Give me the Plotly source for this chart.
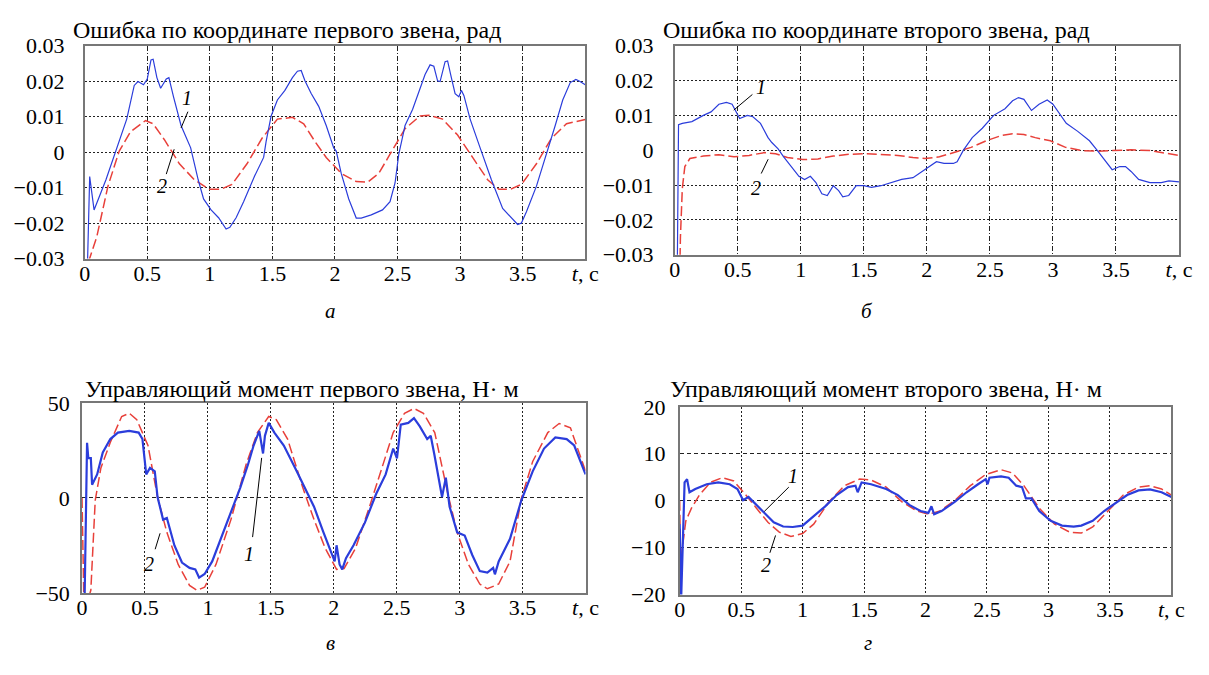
import plotly.graph_objects as go

# ---------------- data ----------------
# Panel a: error of link 1 coordinate, rad
a_blue_t = [0.0, 0.02, 0.04, 0.075, 0.17, 0.246, 0.336, 0.396, 0.426, 0.47, 0.50, 0.53, 0.547, 0.577, 0.607, 0.652,
            0.673, 0.71, 0.77, 0.847, 0.907, 0.95, 1.01, 1.07, 1.13, 1.16, 1.21, 1.27, 1.357, 1.43, 1.45, 1.49,
            1.54, 1.6, 1.66, 1.70, 1.73, 1.76, 1.81, 1.87, 1.93, 1.99, 2.01, 2.05, 2.11, 2.17, 2.21, 2.29, 2.38,
            2.44, 2.48, 2.51, 2.56, 2.62, 2.68, 2.72, 2.76, 2.79, 2.82, 2.84, 2.88, 2.90, 2.93, 2.96, 2.99, 3.01,
            3.03, 3.08, 3.16, 3.25, 3.34, 3.41, 3.46, 3.49, 3.53, 3.61, 3.70, 3.76, 3.82, 3.88, 3.925, 3.955, 4.0]
a_blue_v = [-0.04, -0.035, -0.0069, -0.0163, -0.0078, 0.0003, 0.0093, 0.0188, 0.0199, 0.019, 0.0206, 0.026, 0.0262,
            0.021, 0.018, 0.0206, 0.021, 0.0156, 0.0075, 0.0012, -0.0078, -0.0132, -0.0163, -0.0185, -0.0217,
            -0.0212, -0.0185, -0.014, -0.0068, -0.0015, 0.003, 0.0102, 0.0147, 0.0174, 0.021, 0.0228, 0.023,
            0.0201, 0.0165, 0.0129, 0.0075, 0.0012, 0.0003, -0.006, -0.0132, -0.0186, -0.0186, -0.0177, -0.0163,
            -0.014, -0.0087, -0.0006, 0.0075, 0.012, 0.0183, 0.0219, 0.0246, 0.0242, 0.0201, 0.0199, 0.0255,
            0.0257, 0.021, 0.0165, 0.0156, 0.0174, 0.016, 0.0093, 0.0012, -0.0078, -0.0159, -0.0186, -0.0204,
            -0.02, -0.0168, -0.0096, 0.0003, 0.0075, 0.0147, 0.0196, 0.0205, 0.02, 0.019]
a_red_t = [0.03, 0.096, 0.186, 0.276, 0.366, 0.486, 0.547, 0.637, 0.757, 0.877, 0.997, 1.087, 1.177, 1.297, 1.417,
           1.54, 1.66, 1.75, 1.84, 1.93, 2.05, 2.17, 2.26, 2.35, 2.44, 2.56, 2.68, 2.75, 2.86, 2.98, 3.10, 3.22,
           3.31, 3.40, 3.49, 3.61, 3.73, 3.85, 4.0]
a_red_v = [-0.031, -0.024, -0.0096, 0.0003, 0.0057, 0.0089, 0.008, 0.0035, -0.0033, -0.0078, -0.0105, -0.0105,
           -0.0091, -0.0033, 0.0039, 0.0093, 0.0098, 0.008, 0.003, -0.0015, -0.006, -0.0083, -0.0085, -0.006,
           -0.0006, 0.0066, 0.0102, 0.0104, 0.0093, 0.0048, -0.0015, -0.0078, -0.0105, -0.0105, -0.0091, -0.0033,
           0.0039, 0.008, 0.0092]

# Panel b: error of link 2 coordinate, rad
b_blue_t = [0.02, 0.03, 0.06, 0.136, 0.227, 0.288, 0.35, 0.41, 0.455, 0.485, 0.515, 0.576, 0.62, 0.68, 0.74, 0.77,
            0.82, 0.864, 0.924, 0.985, 1.03, 1.076, 1.12, 1.167, 1.21, 1.258, 1.30, 1.333, 1.38, 1.44, 1.5, 1.56,
            1.636, 1.71, 1.80, 1.89, 1.985, 2.076, 2.136, 2.21, 2.24, 2.29, 2.36, 2.44, 2.53, 2.62, 2.68, 2.727,
            2.77, 2.83, 2.89, 2.955, 3.0, 3.045, 3.106, 3.197, 3.29, 3.35, 3.41, 3.47, 3.53, 3.576, 3.62, 3.68,
            3.77, 3.86, 3.92, 4.0]
b_blue_v = [-0.035, 0.0073, 0.0077, 0.0082, 0.01, 0.011, 0.0132, 0.0137, 0.0132, 0.011, 0.0091, 0.01, 0.0096,
            0.0077, 0.0036, 0.0022, 0.0004, -0.0019, -0.0047, -0.0075, -0.0084, -0.0075, -0.0093, -0.0125, -0.013,
            -0.0102, -0.0116, -0.0134, -0.013, -0.0102, -0.0102, -0.0107, -0.0102, -0.0093, -0.0084, -0.0079,
            -0.0056, -0.0033, -0.0038, -0.0038, -0.0033, 0.0, 0.0036, 0.0063, 0.01, 0.0119, 0.0142, 0.0151,
            0.0146, 0.0114, 0.0132, 0.0144, 0.0132, 0.011, 0.0077, 0.0054, 0.0027, 0.0, -0.0029, -0.0056, -0.0047,
            -0.0047, -0.0061, -0.0084, -0.0093, -0.0093, -0.0088, -0.0091]
b_red_t = [0.04, 0.045, 0.06, 0.08, 0.12, 0.227, 0.35, 0.47, 0.59, 0.71, 0.80, 0.894, 1.015, 1.136, 1.258, 1.38, 1.5,
           1.62, 1.77, 1.89, 1.985, 2.1, 2.23, 2.35, 2.47, 2.59, 2.68, 2.77, 2.86, 2.98, 3.1, 3.23, 3.35, 3.47,
           3.62, 3.77, 3.89, 4.0]
b_red_v = [-0.035, -0.025, -0.011, -0.0047, -0.0024, -0.0017, -0.0013, -0.0019, -0.0015, -0.0007, -0.001, -0.0021,
           -0.0027, -0.0025, -0.0017, -0.0012, -0.001, -0.0013, -0.0015, -0.0021, -0.0024, -0.0019, -0.0006,
           0.0008, 0.0027, 0.0042, 0.0047, 0.0045, 0.0036, 0.0027, 0.0008, -0.0001, -0.0003, -0.0001, 0.0001,
           -0.0001, -0.0008, -0.0015]

# Panel c: control torque of link 1, N*m
c_blue_t = [0.02, 0.04, 0.05, 0.07, 0.08, 0.12, 0.165, 0.225, 0.285, 0.375, 0.45, 0.48, 0.51, 0.54, 0.578, 0.6,
            0.644, 0.674, 0.734, 0.794, 0.854, 0.9, 0.93, 0.974, 1.034, 1.094, 1.183, 1.258, 1.318, 1.363, 1.408,
            1.438, 1.453, 1.483, 1.528, 1.603, 1.693, 1.768, 1.843, 1.918, 1.978, 2.007, 2.022, 2.046, 2.067,
            2.097, 2.157, 2.247, 2.337, 2.412, 2.472, 2.502, 2.532, 2.592, 2.637, 2.682, 2.742, 2.77, 2.80, 2.86,
            2.89, 2.92, 2.98, 3.04, 3.10, 3.16, 3.22, 3.266, 3.28, 3.31, 3.40, 3.49, 3.58, 3.67, 3.76, 3.85, 3.91,
            4.0]
c_blue_v = [-55, 29, 21, 21, 7, 12.4, 24, 31, 34.4, 35.3, 34.4, 31, 12.4, 15.8, 14, 0.5, -11.4, -10.5, -25, -34,
            -36.8, -37.6, -41.9, -40, -33.4, -23.2, -8, 5.6, 17.5, 27.6, 35.3, 23.4, 32.7, 39.5, 34.4, 27.6, 15.8,
            5.6, -4.6, -18.1, -28.3, -33.4, -24.9, -35, -37.6, -31.7, -24.9, -13, 2.2, 12.4, 26, 20.8, 38.6, 39.5,
            42, 37.8, 31, 32.7, 22.5, 0.5, 10.7, -4.6, -18.1, -19.8, -30, -38.5, -39.3, -36.8, -40.2, -33.4, -21.5,
            -1.2, 14, 26, 31.9, 31, 27.6, 12.4]
c_red_t = [0.0, 0.015, 0.04, 0.07, 0.105, 0.15, 0.225, 0.315, 0.375, 0.435, 0.524, 0.6, 0.674, 0.764, 0.854, 0.914,
           0.974, 1.064, 1.183, 1.303, 1.393, 1.483, 1.543, 1.633, 1.753, 1.843, 1.933, 2.022, 2.082, 2.172, 2.292,
           2.382, 2.472, 2.562, 2.637, 2.712, 2.802, 2.906, 2.98, 3.07, 3.16, 3.22, 3.31, 3.40, 3.49, 3.58, 3.70,
           3.79, 3.88, 4.0]
c_red_v = [0, -55, -55, -48.6, -1.2, 15.8, 29.3, 42.9, 44.6, 41.2, 27.6, 0.5, -18.1, -35, -46, -48.6, -47, -35,
           -11.4, 17.5, 34.4, 42.9, 41.2, 31, 5.6, -11.4, -26.6, -37.6, -37.1, -26.6, -2.9, 15.8, 34.4, 44.6, 47.1,
           44.6, 34.4, 2.2, -18.1, -35, -45.3, -47.8, -45.3, -33.4, -0.3, 19.2, 34.4, 39.2, 36.9, 14]

# Panel d: control torque of link 2, N*m
d_blue_t = [0.0, 0.012, 0.03, 0.04, 0.06, 0.08, 0.127, 0.22, 0.314, 0.407, 0.47, 0.516, 0.56, 0.625, 0.687, 0.765,
            0.842, 0.92, 1.0, 1.09, 1.184, 1.277, 1.37, 1.43, 1.448, 1.48, 1.557, 1.68, 1.775, 1.868, 1.96, 2.023,
            2.048, 2.07, 2.13, 2.24, 2.334, 2.427, 2.49, 2.505, 2.52, 2.614, 2.676, 2.738, 2.785, 2.816, 2.862,
            2.925, 3.018, 3.11, 3.205, 3.267, 3.36, 3.453, 3.546, 3.64, 3.733, 3.826, 3.92, 4.0]
d_blue_v = [-5, -21, -5, 3.9, 4.6, 1.8, 2.5, 3.5, 3.9, 3.5, 2.5, 0.1, 0.8, -0.9, -2.6, -4.6, -5.5, -5.6, -5.3, -3.3,
            -1.2, 1.2, 2.9, 3.2, 1.8, 3.9, 3.5, 2.5, 1.2, -0.9, -2.2, -2.6, -1.2, -2.9, -2.2, -0.2, 1.8, 3.5, 4.6,
            3.5, 4.9, 5.2, 4.9, 3.2, 2.9, 0.5, 0.5, -2.2, -4.3, -5.3, -5.5, -5.3, -4.3, -2.2, -0.5, 1.2, 2.2, 2.4,
            1.8, 0.8]
d_red_t = [0.0, 0.01, 0.02, 0.05, 0.096, 0.16, 0.25, 0.345, 0.44, 0.53, 0.625, 0.718, 0.81, 0.905, 1.0, 1.09, 1.215,
           1.34, 1.464, 1.557, 1.68, 1.806, 1.93, 2.023, 2.117, 2.24, 2.365, 2.49, 2.614, 2.707, 2.8, 2.925, 3.05,
           3.173, 3.267, 3.36, 3.484, 3.608, 3.733, 3.826, 3.92, 4.0]
d_red_v = [0, -18, -10.4, -4.3, -1.6, 1.2, 3.9, 4.9, 4.2, 1.5, -1.6, -4.6, -6.7, -7.6, -7.0, -5.0, -0.2, 3.2, 4.6,
           4.4, 2.9, -0.2, -2.2, -2.9, -2.2, 0.1, 3.2, 5.6, 6.6, 5.9, 3.2, -1.6, -5.0, -6.7, -6.9, -5.6, -2.2, 1.2,
           2.9, 3.2, 2.5, 1.2]

titles = ["Ошибка по координате первого звена, рад",
          "Ошибка по координате второго звена, рад",
          "Управляющий момент первого звена, Н· м",
          "Управляющий момент второго звена, Н· м"]
panel_letters = ["а", "б", "в", "г"]

x_tickvals = [0, 0.5, 1, 1.5, 2, 2.5, 3, 3.5, 4]
x_ticktext = ["0", "0.5", "1", "1.5", "2", "2.5", "3", "3.5", "<i>t</i>, c"]
err_tickvals = [-0.03, -0.02, -0.01, 0, 0.01, 0.02, 0.03]
err_ticktext = ["\u22120.03", "\u22120.02", "\u22120.01", "0", "0.01", "0.02", "0.03"]
m1_tickvals = [-50, 0, 50]
m1_ticktext = ["\u221250", "0", "50"]
m2_tickvals = [-20, -10, 0, 10, 20]
m2_ticktext = ["\u221220", "\u221210", "0", "10", "20"]

# curve labels: (text, label x, label y, line x0, y0, x1, y1)
labels_a = [("1", 0.817, 0.0152, 0.825, 0.0114, 0.77, 0.0068), ("2", 0.62, -0.0095, 0.652, -0.0062, 0.715, 0.0008)]
labels_b = [("1", 0.686, 0.0182, 0.616, 0.016, 0.468, 0.0115), ("2", 0.647, -0.0109, 0.686, -0.0067, 0.741, -0.0026)]
labels_c = [("2", 0.534, -34.7, 0.581, -27, 0.62, -18.6), ("1", 1.324, -29.6, 1.355, -20.6, 1.427, 21.1)]
labels_d = [("1", 0.92, 5.3, 0.888, 2.9, 0.688, -2.3), ("2", 0.702, -13.6, 0.734, -11.1, 0.78, -7.4)]

# ---------------- layout geometry (pixels, page coordinates) ----------------
W, H = 1209, 675
FONT = "Liberation Serif"
BLUE = "#2b3ddb"
RED = "#e8403a"


def fx(px):
    return px / W


def fy(py):
    return 1 - py / H


# left, right, top, bottom
boxes = [(80, 589, 35, 256), (680, 1192.7, 35, 252), (77.3, 589.3, 406, 603.3), (685, 1185, 410, 605)]
standoffs = [14, 15, 6, 8]

fig = go.Figure()

panels = [
    (a_blue_t, a_blue_v, a_red_t, a_red_v, 1.2, [-0.03, 0.03], err_tickvals, err_ticktext, labels_a),
    (b_blue_t, b_blue_v, b_red_t, b_red_v, 1.2, [-0.03, 0.03], err_tickvals, err_ticktext, labels_b),
    (c_blue_t, c_blue_v, c_red_t, c_red_v, 2.2, [-50, 50], m1_tickvals, m1_ticktext, labels_c),
    (d_blue_t, d_blue_v, d_red_t, d_red_v, 2.2, [-20, 20], m2_tickvals, m2_ticktext, labels_d),
]

shapes = []
annotations = []
for i, (bt, bv, rt, rv, bw, yr, ytv, ytt, labs) in enumerate(panels):
    n = i + 1
    xa = "x" if n == 1 else f"x{n}"
    ya = "y" if n == 1 else f"y{n}"
    fig.add_trace(go.Scatter(x=rt, y=rv, mode="lines", xaxis=xa, yaxis=ya,
                             line=dict(color=RED, width=1.5, dash="10px,4px"), showlegend=False))
    fig.add_trace(go.Scatter(x=bt, y=bv, mode="lines", xaxis=xa, yaxis=ya,
                             line=dict(color=BLUE, width=bw), showlegend=False))
    l, r, t, b = boxes[i]
    hgrid_dash = "2px,2px" if i < 2 else "4px,3px"
    vgrid_dash = "5px,2px,1px,2px" if i < 2 else "2px,2px"
    xkey = "xaxis" if n == 1 else f"xaxis{n}"
    ykey = "yaxis" if n == 1 else f"yaxis{n}"
    fig.layout[xkey] = dict(domain=[fx(l), fx(r)], anchor=ya, range=[0, 4],
                            tickvals=x_tickvals, ticktext=x_ticktext,
                            showgrid=True, gridcolor="#222", gridwidth=1, griddash=vgrid_dash,
                            showline=True, mirror=True, linecolor="#777", linewidth=1.5,
                            zeroline=False, ticks="", ticklabelstandoff=-6,
                            tickfont=dict(family=FONT, size=22, color="black"),
                            fixedrange=True)
    fig.layout[ykey] = dict(domain=[fy(b), fy(t)], anchor=xa, range=yr,
                            tickvals=ytv, ticktext=ytt,
                            showgrid=True, gridcolor="#222", gridwidth=1, griddash=hgrid_dash,
                            showline=True, mirror=True, linecolor="#777", linewidth=1.5,
                            zeroline=False, ticks="", ticklabelstandoff=standoffs[i],
                            tickfont=dict(family=FONT, size=22, color="black"), fixedrange=True)
    # title
    title_x = [66.5, 666.5, 78.3, 672.7][i]
    title_y = [19, 19, 391.7, 391.7][i]
    annotations.append(dict(text=titles[i], x=fx(title_x), y=fy(title_y), xref="paper", yref="paper",
                            xanchor="left", yanchor="middle", showarrow=False,
                            font=dict(family=FONT, size=24, color="black")))
    # panel letter
    lx = [330, 875, 330, 877][i]
    ly = [311, 311, 655, 655][i]
    annotations.append(dict(text=f"<i>{panel_letters[i]}</i>", x=fx(lx), y=fy(ly), xref="paper", yref="paper",
                            xanchor="center", yanchor="middle", showarrow=False,
                            font=dict(family=FONT, size=21, color="black")))
    # curve labels
    for (txt, tx, ty, x0, y0, x1, y1) in labs:
        annotations.append(dict(text=f"<i>{txt}</i>", x=tx, y=ty, xref=xa, yref=ya, showarrow=False,
                                xanchor="center", yanchor="middle",
                                font=dict(family=FONT, size=20, color="black")))
        shapes.append(dict(type="line", xref=xa, yref=ya, x0=x0, y0=y0, x1=x1, y1=y1,
                           line=dict(color="black", width=1)))

fig.update_layout(width=W, height=H, margin=dict(l=0, r=0, t=0, b=0),
                  paper_bgcolor="white", plot_bgcolor="white",
                  shapes=shapes, annotations=annotations, showlegend=False,
                  font=dict(family=FONT, color="black"))

fig.write_html("out.html", config={"displayModeBar": False},
               post_script="document.body.style.margin='0';document.body.style.overflow='hidden';")
